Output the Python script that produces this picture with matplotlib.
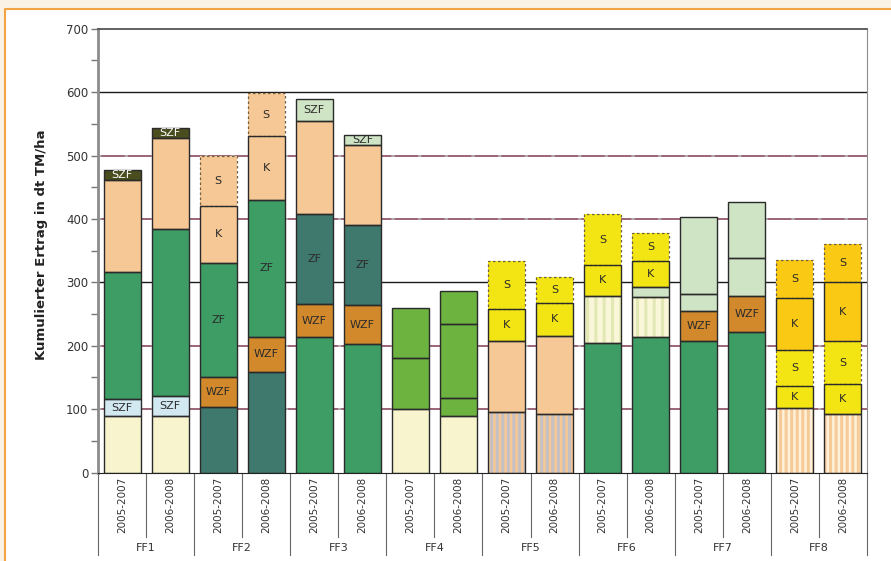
import matplotlib.pyplot as plt
from matplotlib.patches import Rectangle
from matplotlib.lines import Line2D

plt.rcParams['hatch.linewidth'] = 2.2

groups = ["FF1", "FF2", "FF3", "FF4", "FF5", "FF6", "FF7", "FF8"]
periods = ["2005-2007", "2006-2008"]

# each bar: list of (segment height, kind, label), bottom to top
ff1 = [[(89, "beige", ""), (27, "blue", "SZF"), (200, "green", ""), (145, "peach", ""), (16, "olive", "SZF")],
       [(89, "beige", ""), (31, "blue", "SZF"), (264, "green", ""), (143, "peach", ""), (17, "olive", "SZF")]]
ff2 = [[(103, "teal", ""), (48, "wzf", "WZF"), (180, "green", "ZF"), (90, "peach", "K"), (79, "peach", "S")],
       [(159, "teal", ""), (55, "wzf", "WZF"), (216, "green", "ZF"), (101, "peach", "K"), (67, "peach", "S")]]
ff3 = [[(213, "green", ""), (52, "wzf", "WZF"), (143, "teal", "ZF"), (146, "peach", ""), (35, "lightgreen", "SZF")],
       [(202, "green", ""), (62, "wzf", "WZF"), (126, "teal", "ZF"), (126, "peach", ""), (17, "lightgreen", "SZF")]]
ff4 = [[(100, "beige", ""), (81, "leaf", ""), (79, "leaf", "")],
       [(89, "beige", ""), (29, "leaf", ""), (116, "leaf", ""), (53, "leaf", "")]]
ff5 = [[(96, "h_gray", ""), (111, "peach", ""), (51, "yellow", "K"), (75, "yellow", "S")],
       [(93, "h_gray", ""), (123, "peach", ""), (52, "yellow", "K"), (41, "yellow", "S")]]
ff6 = [[(205, "green", ""), (74, "h_green", ""), (49, "yellow", "K"), (79, "yellow", "S")],
       [(214, "green", ""), (63, "h_green", ""), (15, "lightgreen", ""), (42, "yellow", "K"), (44, "yellow", "S")]]
ff7 = [[(207, "green", ""), (47, "wzf", "WZF"), (27, "lightgreen", ""), (122, "lightgreen", "")],
       [(222, "green", ""), (56, "wzf", "WZF"), (61, "lightgreen", ""), (87, "lightgreen", "")]]
ff8 = [[(101, "h_orange", ""), (36, "yellow", "K"), (57, "yellow", "S"), (82, "gold", "K"), (59, "gold", "S")],
       [(92, "h_orange", ""), (48, "yellow", "K"), (67, "yellow", "S"), (93, "gold", "K"), (60, "gold", "S")]]

colors = {
    "beige": "#F8F4CD", "blue": "#D3E9F1", "green": "#3E9C65", "peach": "#F6C895",
    "olive": "#4A4E1E", "teal": "#3F786C", "wzf": "#D1892C", "lightgreen": "#CEE4C5",
    "leaf": "#6CB33F", "yellow": "#F2E513", "gold": "#F9C914",
    "h_gray": "#F6C895", "h_green": "#FAF7D8", "h_orange": "#FDF1DA",
}
stripes = {"h_gray": ("#C4C0C4", "|||"), "h_green": ("#E2E8B4", "||"), "h_orange": ("#F7CB98", "|||")}

fig = plt.figure(figsize=(8.91, 5.61), dpi=100)
fig.patch.set_facecolor("#FBF2E6")
fig.add_artist(Rectangle((5 / 891, 0), 1, 1 - 9 / 561, transform=fig.transFigure,
                         facecolor="white", edgecolor="none", zorder=0))
fig.add_artist(Line2D([5 / 891, 5 / 891, 1], [0, 1 - 9 / 561, 1 - 9 / 561], transform=fig.transFigure,
                      color="#F2A444", lw=1.5, zorder=0.1))

ax = fig.add_axes([98 / 891, 1 - 472.5 / 561, 769 / 891, 443.8 / 561])
ax.set_xlim(-0.5, 15.5)
ax.set_ylim(0, 700)

# grid lines
for y in [100, 200, 400, 500]:
    ax.axhline(y, color="#8A4A5E", lw=1.2, zorder=0.5)
    ax.axhline(y, color="#B5B5B5", lw=1.2, ls=(0, (2, 14)), zorder=0.6)
for y in [300, 600]:
    ax.axhline(y, color="#1a1a1a", lw=1.0, zorder=0.5)

bars = ff1 + ff2 + ff3 + ff4 + ff5 + ff6 + ff7 + ff8
width = 0.77
edges_dashed = []
edges_solid = []
for i, stack in enumerate(bars):
    bottom = 0
    for h, kind, label in stack:
        if kind in stripes:
            sc, hatch = stripes[kind]
            ax.bar(i, h, width, bottom=bottom, color=colors[kind], edgecolor=sc, hatch=hatch, lw=0, zorder=2)
        else:
            ax.bar(i, h, width, bottom=bottom, color=colors[kind], lw=0, zorder=2)
        if label == "S":
            edges_dashed.append((i, h, bottom))
        else:
            edges_solid.append((i, h, bottom))
        if label:
            ax.text(i, bottom + h / 2, label, ha="center", va="center", fontsize=8,
                    color="white" if kind == "olive" else "#2b2b2b", zorder=5)
        bottom += h

for i, h, b in edges_dashed:
    ax.bar(i, h, width, bottom=b, fill=False, edgecolor="#6E6040", lw=0.9, ls=(0, (2, 2)), zorder=3)
for i, h, b in edges_solid:
    ax.bar(i, h, width, bottom=b, fill=False, edgecolor="#2a2a2a", lw=1.0, zorder=4)

# axes styling
ax.set_yticks(range(0, 701, 100))
ax.set_yticks(range(50, 700, 100), minor=True)
ax.set_xticks([])
ax.tick_params(axis="y", which="both", direction="out", length=5, width=1, color="#777777",
               labelsize=8.5, labelcolor="#333333", pad=2)
ax.spines["left"].set_color("#8C8C8C")
ax.spines["left"].set_linewidth(2)
ax.spines["bottom"].set_color("#222222")
ax.spines["top"].set_color("#555555")
ax.spines["top"].set_linewidth(1.3)
ax.spines["right"].set_color("#8C8C8C")

# category axis below
xt = ax.get_xaxis_transform()
for i in range(16):
    ax.text(i, -0.073, periods[i % 2], rotation=90, ha="center", va="center",
            fontsize=7.5, color="#333333", transform=xt, clip_on=False)
for g in range(8):
    ax.text(2 * g + 0.5, -0.17, groups[g], ha="center", va="center",
            fontsize=8, color="#333333", transform=xt, clip_on=False)
    ax.add_line(Line2D([2 * g + 0.5] * 2, [0, -0.145], transform=xt, color="#666666", lw=0.8, clip_on=False))
for g in range(9):
    ax.add_line(Line2D([2 * g - 0.5] * 2, [0, -0.186], transform=xt, color="#666666", lw=0.8, clip_on=False))

fig.text(42 / 891, 1 - 245 / 561, "Kumulierter Ertrag in dt TM/ha", rotation=90, ha="center",
         va="center", fontsize=9.5, fontweight="bold", color="#222222")

plt.savefig("out.png", dpi=100, facecolor=fig.get_facecolor())
